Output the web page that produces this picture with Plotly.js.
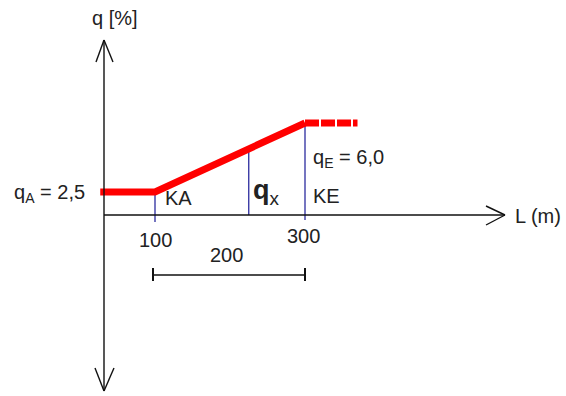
<!DOCTYPE html>
<html>
<head>
<meta charset="utf-8">
<script src="https://cdn.plot.ly/plotly-3.0.1.min.js"></script>
<style>html,body{margin:0;padding:0;background:#fff;}#chart{width:566px;height:396px;}</style>
</head>
<body>
<div id="chart"></div>
<script>
// ---- data ----
const lengthM   = [27, 100, 300];     // L (m) of the solid red profile
const qPercent  = [2.5, 2.5, 6.0];    // q [%]
const lengthExt = [300, 370];         // dashed continuation
const qExt      = [6.0, 6.0];
const markX     = [100, 225, 300];    // KA, qx, KE verticals
const markNames = ["KA", "qx", "KE"];
const tickText  = ["100", "300"];
const spanLabel = "200";
const qA = "2,5", qE = "6,0";

// ---- geometry helpers (figure pixels -> paper) ----
const W = 566, H = 396;
const XR = [-106.67, 648], YR = [-7.85, 12.24];
const px = p => p / W;
const py = p => 1 - p / H;
const yFromPix = p => YR[1] - p / H * (YR[1] - YR[0]);
const qAt = x => {
  for (let i = 0; i < lengthM.length - 1; i++) {
    if (x >= lengthM[i] && x <= lengthM[i+1]) {
      return qPercent[i] + (qPercent[i+1]-qPercent[i])*(x-lengthM[i])/(lengthM[i+1]-lengthM[i]);
    }
  }
  return qPercent[qPercent.length-1];
};

const traces = [
  {x: lengthM, y: qPercent, mode: 'lines', line: {color: '#ff0000', width: 7}, hoverinfo: 'skip'},
  {x: lengthExt, y: qExt, mode: 'lines', line: {color: '#ff0000', width: 7, dash: '14px,2px'}, hoverinfo: 'skip'}
];

const black = '#111';
const blue = '#2b2b9e';
const shapes = [];
const line = (x0,y0,x1,y1,w,c) => shapes.push({type:'line', xref:'paper', yref:'paper', x0:px(x0), y0:py(y0), x1:px(x1), y1:py(y1), line:{color:c||black, width:w||1.4}});

// axes with arrow heads
line(104, 40, 104, 391);
line(104, 215, 505, 215);
line(96, 62, 104, 40); line(104, 40, 113, 62);
line(95, 368, 104, 391); line(104, 391, 114, 368);
line(486, 206, 505, 215); line(505, 215, 486, 225);
// dimension line 100-300
line(153, 275, 305, 275, 1.5);
line(153, 268, 153, 281, 2); line(305, 268, 305, 281, 2);

// blue verticals (data x, down to the axis)
const bottoms = [222, 215, 220];
markX.forEach((x, i) => {
  shapes.push({type:'line', xref:'x', yref:'y', layer:'below', x0:x, x1:x,
    y0: qAt(x), y1: yFromPix(bottoms[i]), line:{color: blue, width: 1.3}});
});

const font = {family: 'Liberation Sans, Arial, sans-serif', size: 20, color: '#222'};
const ann = (text, x, y, xa, f) => ({text, xref:'paper', yref:'paper', x: px(x), y: py(y),
  xanchor: xa || 'left', yanchor: 'middle', showarrow: false, font: f || font});

const annotations = [
  ann('q [%]', 115, 18, 'center'),
  ann('q<sub>A</sub> = ' + qA, 12, 193),
  ann(markNames[0], 163, 198),
  ann('<b>q</b><sub>x</sub>', 251, 192, 'left', Object.assign({}, font, {size: 27})),
  ann(markNames[2], 311, 196),
  ann('q<sub>E</sub> = ' + qE, 311, 158),
  ann(tickText[0], 155, 240, 'center'),
  ann(tickText[1], 303, 236, 'center'),
  ann(spanLabel, 226, 255, 'center'),
  ann('L (m)', 513, 216)
];

const layout = {
  width: W, height: H,
  margin: {l:0, r:0, t:0, b:0},
  paper_bgcolor: '#fff', plot_bgcolor: '#fff',
  showlegend: false,
  xaxis: {range: XR, visible: false, fixedrange: true},
  yaxis: {range: YR, visible: false, fixedrange: true},
  shapes, annotations
};

Plotly.newPlot('chart', traces, layout, {staticPlot: true, displayModeBar: false});
</script>
</body>
</html>
